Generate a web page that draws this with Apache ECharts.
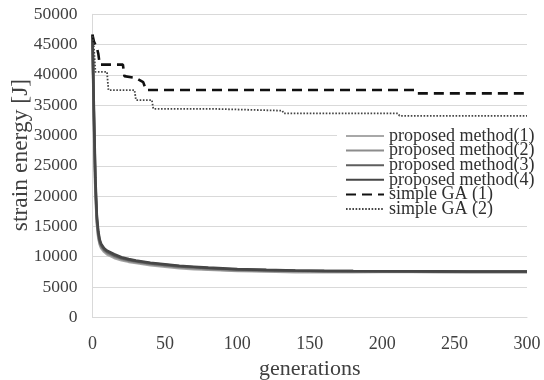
<!DOCTYPE html>
<html>
<head>
<meta charset="utf-8">
<script src="https://cdn.jsdelivr.net/npm/echarts@6/dist/echarts.min.js"></script>
<style>
html,body{margin:0;padding:0;background:#fff;}
#chart{width:544px;height:380px;}
</style>
</head>
<body>
<div id="chart"></div>
<script>
// ---- data ----
var xTicks = [0, 50, 100, 150, 200, 250, 300];
var yTicks = [0, 5000, 10000, 15000, 20000, 25000, 30000, 35000, 40000, 45000, 50000];

var genP = [0, 1, 2, 3, 4, 5, 6, 8, 10, 15, 20, 25, 30, 40, 50, 60, 70, 80, 100, 120, 140, 160, 180, 200, 220, 240, 260, 280, 300];
var prop1 = [46000, 31000, 20500, 15500, 13100, 12000, 11400, 10800, 10400, 9800, 9400, 9150, 8950, 8600, 8350, 8100, 7950, 7850, 7650, 7550, 7450, 7430, 7450, 7480, 7480, 7470, 7460, 7450, 7450];
var prop2 = [46300, 32000, 21000, 15800, 13400, 12200, 11600, 11000, 10600, 10000, 9600, 9300, 9100, 8750, 8500, 8250, 8100, 7950, 7750, 7650, 7600, 7550, 7530, 7520, 7510, 7500, 7500, 7500, 7500];
var prop3 = [46500, 33000, 22000, 16300, 13800, 12500, 11900, 11200, 10800, 10200, 9750, 9450, 9250, 8900, 8650, 8400, 8250, 8100, 7900, 7780, 7700, 7650, 7620, 7600, 7580, 7570, 7560, 7550, 7550];
var prop4 = [46700, 34000, 23000, 16800, 14200, 12800, 12100, 11400, 11000, 10400, 9900, 9600, 9350, 9000, 8750, 8500, 8350, 8200, 7950, 7820, 7720, 7660, 7630, 7610, 7590, 7580, 7570, 7560, 7560];

var genGA1 = [0, 1, 3, 4, 5, 21, 22, 30, 35, 37, 223, 224, 300];
var ga1 = [46600, 45500, 44500, 43500, 41700, 41700, 39800, 39500, 38800, 37500, 37500, 36950, 36950];

var genGA2 = [0, 1, 2, 10, 11, 29, 30, 41, 42, 83, 84, 131, 132, 211, 212, 300];
var ga2 = [46400, 44500, 40500, 40500, 37500, 37500, 35850, 35850, 34400, 34400, 34100, 34100, 33650, 33650, 33250, 33250];

var seriesNames = ['proposed method(1)', 'proposed method(2)', 'proposed method(3)', 'proposed method(4)', 'simple GA (1)', 'simple GA (2)'];
var xTitle = 'generations';
var yTitle = 'strain energy [J]';

function pairs(xs, ys) { return xs.map(function (x, i) { return [x, ys[i]]; }); }

var FONT = '"Liberation Serif", "Times New Roman", serif';
var TXT = '#404040';

var propColors = ['#a8a8a8', '#8c8c8c', '#5e5e5e', '#464646'];
var propData = [prop1, prop2, prop3, prop4];

var series = [];
for (var i = 0; i < 4; i++) {
  series.push({
    name: seriesNames[i], type: 'line', data: pairs(genP, propData[i]),
    symbol: 'none', smooth: false,
    lineStyle: { color: propColors[i], width: 2.6 },
    itemStyle: { color: propColors[i] }
  });
}
series.push({
  name: seriesNames[4], type: 'line', data: pairs(genGA1, ga1), symbol: 'none',
  lineStyle: { color: '#111', width: 2.6, type: [10, 6] }, itemStyle: { color: '#111' }
});
series.push({
  name: seriesNames[5], type: 'line', data: pairs(genGA2, ga2), symbol: 'none',
  lineStyle: { color: '#444', width: 1.8, type: [1.6, 1.6] }, itemStyle: { color: '#444' }
});

var chart = echarts.init(document.getElementById('chart'), null, { renderer: 'canvas' });
chart.setOption({
  animation: false,
  backgroundColor: '#fff',
  grid: { left: 92.5, right: 17, top: 14.3, bottom: 62.7, containLabel: false, outerBoundsMode: 'none' },
  xAxis: {
    type: 'value', min: xTicks[0], max: xTicks[xTicks.length - 1], interval: 50,
    name: xTitle, nameLocation: 'middle', nameGap: 41,
    nameTextStyle: { fontFamily: FONT, fontSize: 22, color: TXT },
    axisLine: { show: true, lineStyle: { color: '#d9d9d9', width: 1 } },
    axisTick: { show: false },
    splitLine: { show: false },
    axisLabel: { fontFamily: FONT, fontSize: 18, color: TXT, margin: 18 }
  },
  yAxis: {
    type: 'value', min: yTicks[0], max: yTicks[yTicks.length - 1], interval: 5000,
    axisLine: { show: true, lineStyle: { color: '#d9d9d9', width: 1 } },
    axisTick: { show: false },
    splitLine: { show: true, lineStyle: { color: '#d9d9d9', width: 1 } },
    axisLabel: { fontFamily: FONT, fontSize: 17.5, color: TXT, margin: 15, formatter: function (v) { return String(v); } }
  },
  graphic: [{
    type: 'text', x: 21, y: 155, rotation: Math.PI / 2,
    style: { text: yTitle, fontFamily: FONT, fontSize: 23.5, fill: TXT, align: 'center', verticalAlign: 'middle' }
  }],
  legend: {
    data: seriesNames,
    orient: 'vertical', left: 337, top: 122,
    padding: [5, 4, 5, 8],
    backgroundColor: '#fff',
    itemWidth: 38, itemHeight: 14, itemGap: -3.4,
    itemStyle: { opacity: 0 },
    textStyle: { fontFamily: FONT, fontSize: 18, color: '#303030', lineHeight: 14.4 }
  },
  series: series
});
</script>
</body>
</html>
